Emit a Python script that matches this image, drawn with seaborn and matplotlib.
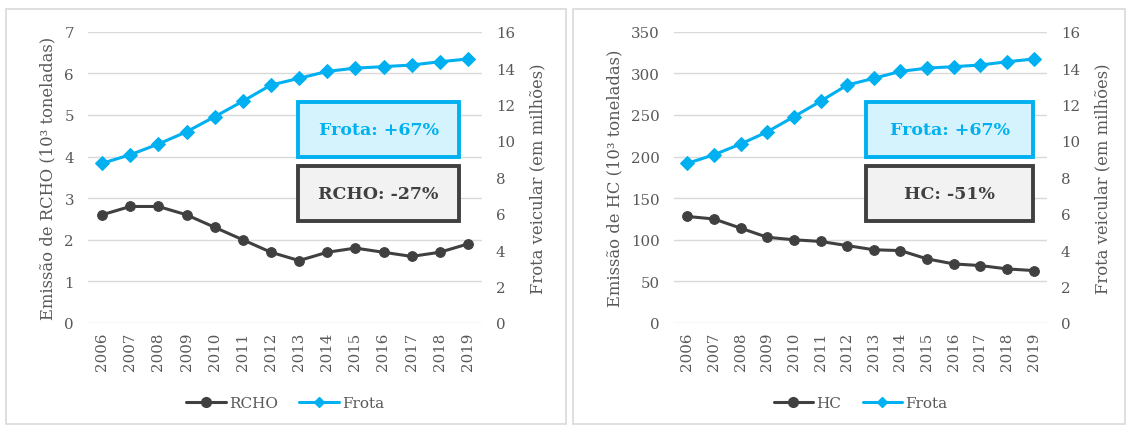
import pandas as pd
import seaborn as sns
import matplotlib.pyplot as plt
from matplotlib.patches import Rectangle
from matplotlib.lines import Line2D

# ==========================================
# DATA
# ==========================================
YEARS = [str(y) for y in range(2006, 2020)]
RCHO = [2.6, 2.8, 2.8, 2.6, 2.3, 2.0, 1.7, 1.5, 1.7, 1.8, 1.7, 1.6, 1.7, 1.9]
HC = [128, 125, 114, 103, 100, 98, 93, 88, 87, 77, 71, 69, 65, 63]
FROTA = [8.77, 9.24, 9.83, 10.5, 11.33, 12.18, 13.07, 13.44, 13.82, 14.0,
         14.08, 14.17, 14.35, 14.5]

PANELS = [
    {"name": "RCHO", "values": RCHO, "ymax": 7, "ystep": 1,
     "ylabel": "Emissão de RCHO (10³ toneladas)", "change": "RCHO: -27%"},
    {"name": "HC", "values": HC, "ymax": 350, "ystep": 50,
     "ylabel": "Emissão de HC (10³ toneladas)", "change": "HC: -51%"},
]
FROTA_LABEL = "Frota: +67%"

DARK = "#404040"
BLUE = "#00B0F0"
GRAY_TXT = "#595959"
GRID = "#D9D9D9"
# ==========================================

sns.set_theme(style="white")
plt.rcParams['font.family'] = ['DejaVu Serif']

W, H = 1129, 427
fig = plt.figure(figsize=(W / 100, H / 100), dpi=100)

# panel frames (pixels: left, top, right, bottom)
frames = [(6, 10, 566, 425), (573, 10, 1125, 425)]
for l, t, r, b in frames:
    fig.patches.append(Rectangle((l / W, 1 - b / H), (r - l) / W, (b - t) / H,
                                 transform=fig.transFigure, fill=False,
                                 edgecolor=GRID, lw=1.2))

# axes boxes in pixels: left, right, top, bottom
axes_px = [(88, 482, 32.7, 324), (674, 1047, 32.7, 324)]
box_x = [(298, 459), (866, 1033)]

for panel, (l, r, t, b), (bx0, bx1) in zip(PANELS, axes_px, box_x):
    ax = fig.add_axes([l / W, 1 - b / H, (r - l) / W, (b - t) / H])
    df = pd.DataFrame({"ano": YEARS, "emissao": panel["values"], "frota": FROTA})

    sns.lineplot(data=df, x="ano", y="emissao", ax=ax, color=DARK, lw=2.2,
                 marker="o", markersize=7, markeredgecolor=DARK, sort=False)
    ax.set_ylim(0, panel["ymax"])
    ax.set_yticks(range(0, panel["ymax"] + 1, panel["ystep"]))
    ax.set_xlim(-0.5, len(YEARS) - 0.5)
    ax.grid(axis="y", color=GRID, lw=1)
    ax.set_axisbelow(True)
    for s in ax.spines.values():
        s.set_visible(False)
    ax.tick_params(axis="x", rotation=90, labelsize=10.8, labelcolor=GRAY_TXT,
                   length=0, pad=6)
    ax.tick_params(axis="y", labelsize=10.8, labelcolor=GRAY_TXT, length=0, pad=10)
    ax.set_xlabel("")
    ax.set_ylabel(panel["ylabel"], fontsize=11.8, color=GRAY_TXT, labelpad=6)

    ax2 = ax.twinx()
    sns.lineplot(data=df, x="ano", y="frota", ax=ax2, color=BLUE, lw=2.2,
                 marker="D", markersize=7, markeredgecolor=BLUE, sort=False)
    ax2.set_ylim(0, 16)
    ax2.set_yticks(range(0, 17, 2))
    for s in ax2.spines.values():
        s.set_visible(False)
    ax2.tick_params(axis="y", labelsize=10.8, labelcolor=GRAY_TXT, length=0, pad=10)
    ax2.set_ylabel("Frota veicular (em milhões)", fontsize=11.8, color=GRAY_TXT,
                   labelpad=10)

    # annotation boxes
    aw = r - l
    ah = b - t
    fx0 = (bx0 - l) / aw
    fw = (bx1 - bx0) / aw
    for (top, bot), txt, fc, ec in [((103, 158), FROTA_LABEL, "#D5F3FD", BLUE),
                                    ((167, 222), panel["change"], "#F2F2F2", DARK)]:
        y0 = (b - bot) / ah
        hh = (bot - top) / ah
        ax2.add_patch(Rectangle((fx0, y0), fw, hh, transform=ax2.transAxes,
                                facecolor=fc, edgecolor=ec, lw=2.8, zorder=5,
                                clip_on=False))
        ax2.text(fx0 + fw / 2, y0 + hh / 2, txt, transform=ax2.transAxes,
                 ha="center", va="center", fontsize=12.5, fontweight="bold",
                 color=ec if ec == BLUE else DARK, zorder=6)

    handles = [Line2D([], [], color=DARK, lw=2.2, marker="o", markersize=7),
               Line2D([], [], color=BLUE, lw=2.2, marker="D", markersize=5)]
    leg = ax.legend(handles, [panel["name"], "Frota"], loc="center",
                    bbox_to_anchor=(0.5, -0.275), ncol=2, frameon=False,
                    fontsize=11, handlelength=2.6, columnspacing=1.4,
                    handletextpad=0.2)
    for t_ in leg.get_texts():
        t_.set_color(GRAY_TXT)

fig.savefig("out.png", dpi=100)
